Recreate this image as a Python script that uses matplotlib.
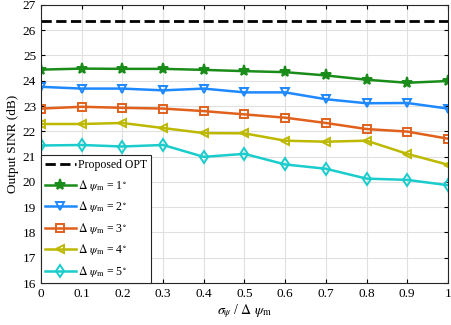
import matplotlib
matplotlib.use("Agg")
import matplotlib.pyplot as plt

plt.rcParams['font.family'] = ['Liberation Serif', 'DejaVu Serif']
plt.rcParams['mathtext.fontset'] = 'stix'

x = [0, 0.1, 0.2, 0.3, 0.4, 0.5, 0.6, 0.7, 0.8, 0.9, 1.0]
opt = 26.35
sinr_1 = [24.44, 24.48, 24.47, 24.47, 24.43, 24.38, 24.34, 24.21, 24.04, 23.92, 23.99]
sinr_2 = [23.76, 23.69, 23.69, 23.62, 23.69, 23.54, 23.54, 23.27, 23.11, 23.12, 22.90]
sinr_3 = [22.90, 22.97, 22.93, 22.90, 22.80, 22.67, 22.54, 22.33, 22.09, 21.99, 21.71]
sinr_4 = [22.29, 22.29, 22.33, 22.13, 21.93, 21.92, 21.63, 21.59, 21.63, 21.11, 20.68]
sinr_5 = [21.44, 21.46, 21.40, 21.46, 20.99, 21.11, 20.69, 20.52, 20.13, 20.08, 19.87]

series = [
    (sinr_1, '#1a8c1a', '*', 1),
    (sinr_2, '#1e88ff', 'v', 2),
    (sinr_3, '#e0601c', 's', 3),
    (sinr_4, '#bdb800', '<', 4),
    (sinr_5, '#1acccc', 'd', 5),
]

fig = plt.figure(figsize=(4.52, 3.25), dpi=100)
ax = fig.add_axes([0.0907, 0.129, 0.9003, 0.856])

ax.plot([x[0], x[-1]], [opt, opt], 'k--', lw=2, label='Proposed OPT')
for vals, col, mk, deg in series:
    ms = 8 if mk == '*' else 6
    ax.plot(x, vals, color=col, lw=1.8, marker=mk, ms=ms,
            mfc='none' if mk != '*' else col, mew=1.4,
            label=r'$\Delta\ \psi_{\rm m}$ = ' + str(deg) + r'$^\circ$')

ax.set_xlim(0, 1)
ax.set_ylim(16, 27)
ax.set_xticks(x)
ax.set_xticklabels(['0', '0.1', '0.2', '0.3', '0.4', '0.5', '0.6', '0.7', '0.8', '0.9', '1'])
ax.set_yticks(range(16, 28))
ax.tick_params(direction='in', top=True, right=True, labelsize=9.5, length=3)
ax.grid(True, color='#e0e0e0', lw=0.8)
for s in ax.spines.values():
    s.set_color('#262626')
ax.set_xlabel(r'$\sigma_{\psi}$ / $\Delta\ \psi_{\rm m}$', fontsize=10, labelpad=2)
ax.set_ylabel('Output SINR (dB)', fontsize=9.5, labelpad=3)

leg = ax.legend(loc='lower left', borderaxespad=0, fontsize=8.5, fancybox=False,
                framealpha=1, edgecolor='#262626', handlelength=2.6,
                handletextpad=0.2, labelspacing=0.55, borderpad=0.35)
leg.get_frame().set_linewidth(0.8)

fig.savefig('out.png', dpi=100)
